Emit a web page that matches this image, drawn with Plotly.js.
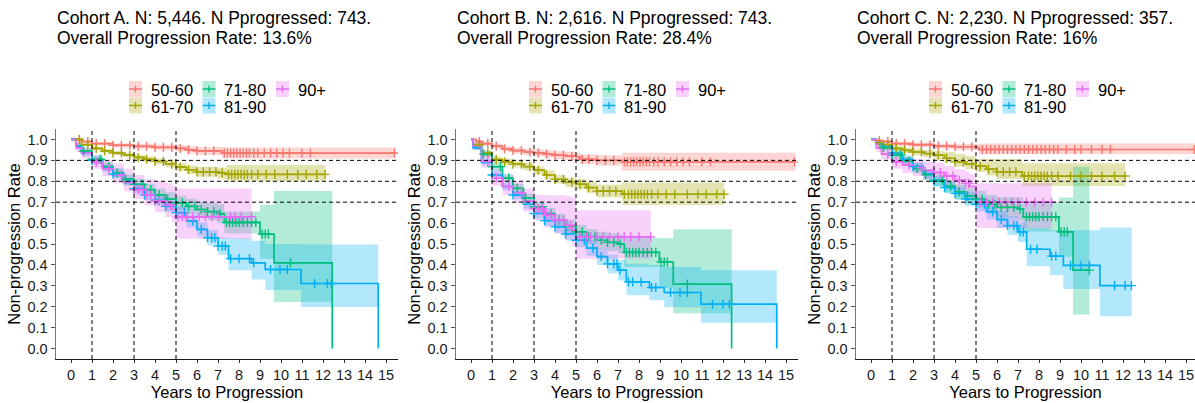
<!DOCTYPE html>
<html><head><meta charset="utf-8">
<script src="https://cdn.plot.ly/plotly-3.0.1.min.js"></script>
<style>html,body{margin:0;padding:0;background:#fff}</style>
</head><body><div id="chart" style="width:1195px;height:403px"></div>
<script>
// ---------- categories, ticks, labels ----------
const groups = ["50-60", "61-70", "71-80", "81-90", "90+"];
const groupColors = ["#F8766D", "#A3A500", "#00BF7D", "#00B0F6", "#E76BF3"];
const xTickVals = [0,1,2,3,4,5,6,7,8,9,10,11,12,13,14,15];
const yTickVals = [0,0.1,0.2,0.3,0.4,0.5,0.6,0.7,0.8,0.9,1.0];
const refYears = [1, 3, 5];
const refRates = [0.7, 0.8, 0.9];
const titleLine1 = ["Cohort A. N: 5,446. N Pprogressed: 743.", "Cohort B. N: 2,616. N Pprogressed: 743.", "Cohort C. N: 2,230. N Pprogressed: 357."];
const titleLine2 = ["Overall Progression Rate: 13.6%", "Overall Progression Rate: 28.4%", "Overall Progression Rate: 16%"];

// ---------- Cohort A ----------
const A_t_5060 = [0, 0.5, 1, 2, 3, 4, 5, 5.5, 6, 7.2, 15.45];
const A_s_5060 = [1, 0.99, 0.98, 0.972, 0.967, 0.962, 0.957, 0.95, 0.945, 0.935, 0.935];
const A_lo_5060 = [1, 0.984, 0.972, 0.962, 0.955, 0.948, 0.942, 0.933, 0.926, 0.909, 0.909];
const A_hi_5060 = [1, 0.996, 0.988, 0.982, 0.979, 0.976, 0.972, 0.967, 0.964, 0.962, 0.962];
const A_c_5060 = [0.4,0.8,1.2,1.6,2.0,2.4,2.8,3.2,3.6,4.0,4.4,4.8,5.2,5.6,6.0,6.4,6.8,7.3,7.45,7.6,7.75,7.9,8.05,8.2,8.35,8.5,8.7,8.9,9.2,9.5,9.8,10.1,10.4,11.0,11.4,15.4];

const A_t_6170 = [0, 0.5, 1, 1.5, 2, 2.5, 3, 3.5, 4, 4.5, 5, 5.5, 6, 7, 7.4, 12.1];
const A_s_6170 = [1, 0.975, 0.957, 0.945, 0.935, 0.925, 0.914, 0.905, 0.895, 0.882, 0.868, 0.855, 0.845, 0.84, 0.833, 0.833];
const A_lo_6170 = [1, 0.968, 0.949, 0.936, 0.925, 0.914, 0.902, 0.892, 0.881, 0.866, 0.85, 0.835, 0.822, 0.812, 0.8, 0.8];
const A_hi_6170 = [1, 0.982, 0.965, 0.954, 0.945, 0.936, 0.926, 0.918, 0.909, 0.898, 0.886, 0.875, 0.868, 0.866, 0.878, 0.878];
const A_c_6170 = [0.4,0.8,1.2,1.6,2.0,2.4,2.8,3.2,3.6,4.0,4.4,4.8,5.2,5.6,6.0,6.3,6.6,6.9,7.2,7.5,7.65,7.8,7.95,8.1,8.25,8.4,8.6,8.9,9.3,9.7,10.3,10.8,11.2,11.7,12.1];

const A_t_7180 = [0, 0.25, 0.5, 1, 1.5, 2, 2.5, 3, 3.5, 4, 4.5, 5, 5.5, 6, 6.5, 7, 7.3, 9.0, 9.67, 12.44, 12.44];
const A_s_7180 = [1, 0.97, 0.945, 0.905, 0.87, 0.84, 0.81, 0.785, 0.76, 0.735, 0.715, 0.697, 0.68, 0.665, 0.655, 0.645, 0.603, 0.547, 0.41, 0.41, 0];
const A_lo_7180 = [1, 0.958, 0.93, 0.887, 0.85, 0.818, 0.786, 0.759, 0.732, 0.705, 0.683, 0.663, 0.644, 0.627, 0.614, 0.6, 0.55, 0.43, 0.223, 0.223, 0.223];
const A_hi_7180 = [1, 0.982, 0.96, 0.923, 0.89, 0.862, 0.834, 0.811, 0.788, 0.765, 0.747, 0.731, 0.716, 0.703, 0.696, 0.69, 0.655, 0.686, 0.753, 0.753, 0.753];
const A_c_7180 = [0.6,1.0,1.4,1.8,2.2,2.6,3.0,3.4,3.8,4.2,4.6,5.0,5.3,5.6,5.9,6.2,6.5,6.8,7.1,7.4,7.55,7.7,7.85,8.0,8.2,8.4,8.6,8.8,9.1,9.25,9.4,10.45];

const A_t_8190 = [0, 0.25, 0.5, 1, 1.5, 2, 2.5, 3, 3.5, 4, 4.5, 5, 5.5, 6, 6.5, 7, 7.5, 8.6, 9.25, 10.95, 14.63, 14.63];
const A_s_8190 = [1, 0.965, 0.935, 0.9, 0.865, 0.835, 0.8, 0.765, 0.735, 0.71, 0.68, 0.65, 0.61, 0.57, 0.53, 0.49, 0.43, 0.41, 0.378, 0.311, 0.311, 0];
const A_lo_8190 = [1, 0.953, 0.92, 0.883, 0.847, 0.815, 0.779, 0.743, 0.711, 0.685, 0.653, 0.621, 0.579, 0.536, 0.493, 0.449, 0.375, 0.33, 0.28, 0.199, 0.199, 0.199];
const A_hi_8190 = [1, 0.977, 0.95, 0.917, 0.883, 0.855, 0.821, 0.787, 0.759, 0.735, 0.707, 0.679, 0.641, 0.604, 0.567, 0.531, 0.528, 0.515, 0.5, 0.498, 0.498, 0.498];
const A_c_8190 = [1.0,2.0,3.0,3.5,4.0,4.5,5.0,5.4,5.8,6.2,6.5,6.7,6.85,7.0,7.2,7.35,7.6,8.0,8.5,8.7,9.5,9.95,10.3,11.6,12.2,12.4];

const A_t_90 = [0, 0.25, 0.5, 1, 1.5, 2, 2.5, 3, 3.5, 4, 4.5, 4.8, 5, 8.6];
const A_s_90 = [1, 0.96, 0.935, 0.89, 0.86, 0.83, 0.795, 0.76, 0.735, 0.705, 0.685, 0.665, 0.63, 0.63];
const A_lo_90 = [1, 0.94, 0.91, 0.86, 0.825, 0.79, 0.752, 0.714, 0.685, 0.652, 0.628, 0.605, 0.525, 0.525];
const A_hi_90 = [1, 0.98, 0.96, 0.925, 0.9, 0.885, 0.86, 0.83, 0.81, 0.8, 0.79, 0.78, 0.765, 0.765];
const A_c_90 = [1.2,1.8,2.4,3.0,3.2,3.4,3.6,3.8,4.0,4.2,4.4,4.6,4.75,5.1,5.3,5.5,5.8,6.1,6.4,6.7,7.0,7.6,7.8,8.1,8.6];

// ---------- Cohort B ----------
const B_t_5060 = [0, 0.25, 0.5, 1, 1.5, 2, 2.5, 3, 3.5, 4, 4.5, 5, 5.2, 6, 7.2, 15.45];
const B_s_5060 = [1, 0.99, 0.98, 0.968, 0.955, 0.947, 0.94, 0.936, 0.93, 0.925, 0.92, 0.917, 0.905, 0.9, 0.893, 0.893];
const B_lo_5060 = [1, 0.983, 0.97, 0.955, 0.942, 0.932, 0.925, 0.92, 0.913, 0.907, 0.9, 0.896, 0.882, 0.875, 0.85, 0.85];
const B_hi_5060 = [1, 0.997, 0.99, 0.98, 0.968, 0.96, 0.955, 0.952, 0.947, 0.943, 0.94, 0.938, 0.928, 0.925, 0.936, 0.936];
const B_c_5060 = [0.4,0.8,1.2,1.6,2.0,2.4,2.8,3.2,3.6,4.0,4.4,4.8,5.3,5.6,6.0,6.4,6.8,7.3,7.45,7.6,7.75,7.9,8.05,8.2,8.35,8.5,8.7,8.9,9.2,9.5,9.8,10.1,10.4,11.0,11.4,15.4];

const B_t_6170 = [0, 0.1, 0.5, 1, 1.5, 2, 2.5, 3, 3.5, 4, 4.5, 5, 5.5, 6, 7.2, 12.05];
const B_s_6170 = [1, 0.975, 0.935, 0.904, 0.893, 0.882, 0.87, 0.853, 0.83, 0.809, 0.795, 0.786, 0.77, 0.753, 0.738, 0.738];
const B_lo_6170 = [1, 0.965, 0.922, 0.89, 0.878, 0.866, 0.853, 0.835, 0.81, 0.788, 0.772, 0.762, 0.743, 0.722, 0.686, 0.686];
const B_hi_6170 = [1, 0.985, 0.948, 0.918, 0.908, 0.898, 0.887, 0.871, 0.85, 0.83, 0.818, 0.81, 0.797, 0.784, 0.794, 0.794];
const B_c_6170 = [0.4,0.8,1.2,1.6,2.0,2.4,2.8,3.2,3.6,4.0,4.4,4.8,5.2,5.6,6.0,6.3,6.6,6.9,7.3,7.5,7.65,7.8,7.95,8.1,8.25,8.4,8.6,8.9,9.3,9.7,10.3,10.8,11.2,11.7,12.05];

const B_t_7180 = [0, 0.1, 0.5, 1, 1.5, 2, 2.5, 3, 3.5, 4, 4.5, 5, 5.5, 6, 6.5, 7, 7.3, 8.97, 9.63, 12.41, 12.41];
const B_s_7180 = [1, 0.97, 0.93, 0.87, 0.815, 0.766, 0.72, 0.678, 0.645, 0.614, 0.585, 0.558, 0.535, 0.518, 0.508, 0.5, 0.46, 0.414, 0.308, 0.308, 0];
const B_lo_7180 = [1, 0.96, 0.915, 0.85, 0.795, 0.745, 0.698, 0.653, 0.618, 0.585, 0.553, 0.524, 0.498, 0.478, 0.465, 0.455, 0.39, 0.29, 0.169, 0.169, 0.169];
const B_hi_7180 = [1, 0.98, 0.945, 0.89, 0.835, 0.787, 0.742, 0.703, 0.672, 0.643, 0.617, 0.592, 0.572, 0.558, 0.551, 0.545, 0.53, 0.528, 0.571, 0.571, 0.571];
const B_c_7180 = [0.6,1.0,1.4,1.8,2.2,2.6,3.0,3.4,3.8,4.2,4.6,5.0,5.3,5.6,5.9,6.2,6.5,6.8,7.1,7.4,7.55,7.7,7.85,8.0,8.2,8.4,8.6,8.8,9.05,9.2,9.35,10.3];

const B_t_8190 = [0, 0.1, 0.5, 1, 1.5, 2, 2.5, 3, 3.5, 4, 4.5, 5, 5.5, 6, 6.5, 7, 7.4, 8.5, 9.2, 10.95, 14.56, 14.56];
const B_s_8190 = [1, 0.96, 0.89, 0.83, 0.775, 0.734, 0.69, 0.646, 0.612, 0.582, 0.548, 0.518, 0.48, 0.44, 0.405, 0.375, 0.319, 0.292, 0.268, 0.212, 0.212, 0];
const B_lo_8190 = [1, 0.95, 0.875, 0.813, 0.757, 0.714, 0.668, 0.622, 0.586, 0.553, 0.517, 0.484, 0.443, 0.4, 0.36, 0.325, 0.255, 0.231, 0.197, 0.123, 0.123, 0.123];
const B_hi_8190 = [1, 0.97, 0.905, 0.847, 0.793, 0.754, 0.712, 0.67, 0.638, 0.611, 0.579, 0.552, 0.517, 0.48, 0.45, 0.425, 0.405, 0.4, 0.39, 0.375, 0.375, 0.375];
const B_c_8190 = [1.0,2.0,3.0,3.5,4.0,4.5,5.0,5.4,5.8,6.2,6.5,6.8,6.95,7.1,7.5,7.7,8.1,8.6,8.8,9.5,9.95,10.3,11.5,12.0,12.3];

const B_t_90 = [0, 0.1, 0.5, 1, 1.5, 2, 2.5, 3, 3.5, 4, 4.5, 4.8, 5, 8.56];
const B_s_90 = [1, 0.97, 0.895, 0.815, 0.775, 0.745, 0.705, 0.67, 0.64, 0.615, 0.59, 0.565, 0.534, 0.534];
const B_lo_90 = [1, 0.95, 0.865, 0.78, 0.735, 0.7, 0.655, 0.615, 0.58, 0.55, 0.52, 0.49, 0.43, 0.43];
const B_hi_90 = [1, 0.99, 0.93, 0.86, 0.83, 0.8, 0.765, 0.735, 0.733, 0.733, 0.73, 0.72, 0.662, 0.662];
const B_c_90 = [0.8,1.2,1.8,2.4,3.0,3.2,3.4,3.6,3.8,4.0,4.2,4.4,4.6,4.75,5.2,5.5,5.7,6.0,6.3,6.6,7.0,7.3,7.6,8.0,8.56];

// ---------- Cohort C ----------
const C_t_5060 = [0, 0.25, 0.5, 1, 2, 3, 4, 5, 5.15, 15.45];
const C_s_5060 = [1, 0.995, 0.99, 0.98, 0.975, 0.968, 0.965, 0.962, 0.952, 0.952];
const C_lo_5060 = [1, 0.99, 0.982, 0.97, 0.963, 0.955, 0.95, 0.946, 0.93, 0.93];
const C_hi_5060 = [1, 1, 0.997, 0.99, 0.986, 0.98, 0.978, 0.977, 0.981, 0.981];
const C_c_5060 = [0.4,0.8,1.2,1.6,2.0,2.4,2.8,3.2,3.6,4.0,4.4,4.8,5.3,5.5,5.7,5.9,6.1,6.3,6.5,6.7,6.9,7.1,7.3,7.5,7.7,7.9,8.1,8.3,8.5,8.7,8.9,9.3,9.7,10.0,10.5,11.0,11.4,15.4];

const C_t_6170 = [0, 0.25, 0.5, 1, 1.5, 2, 2.5, 3, 3.5, 4, 4.5, 5, 5.5, 6, 7.2, 12.1];
const C_s_6170 = [1, 0.985, 0.975, 0.957, 0.948, 0.94, 0.932, 0.925, 0.91, 0.893, 0.882, 0.872, 0.858, 0.845, 0.825, 0.825];
const C_lo_6170 = [1, 0.978, 0.965, 0.945, 0.934, 0.925, 0.915, 0.906, 0.889, 0.87, 0.857, 0.844, 0.828, 0.811, 0.777, 0.777];
const C_hi_6170 = [1, 0.992, 0.985, 0.969, 0.962, 0.955, 0.95, 0.945, 0.94, 0.93, 0.92, 0.906, 0.906, 0.906, 0.886, 0.886];
const C_c_6170 = [0.4,0.8,1.2,1.6,2.0,2.4,2.8,3.2,3.6,4.0,4.4,4.8,5.2,5.6,6.0,6.3,6.6,6.9,7.3,7.5,7.65,7.8,7.95,8.1,8.25,8.4,8.6,8.9,9.5,10.0,10.5,11.0,11.6,12.1];

const C_t_7180 = [0, 0.25, 0.5, 1, 1.5, 2, 2.5, 3, 3.5, 4, 4.5, 5, 5.5, 6, 7, 7.25, 8.95, 9.62, 10.4];
const C_s_7180 = [1, 0.98, 0.96, 0.925, 0.895, 0.861, 0.832, 0.805, 0.777, 0.75, 0.73, 0.714, 0.69, 0.675, 0.667, 0.63, 0.558, 0.375, 0.375];
const C_lo_7180 = [1, 0.97, 0.947, 0.908, 0.875, 0.838, 0.806, 0.777, 0.746, 0.716, 0.693, 0.674, 0.645, 0.625, 0.61, 0.56, 0.44, 0.163, 0.163];
const C_hi_7180 = [1, 0.99, 0.973, 0.942, 0.915, 0.884, 0.858, 0.833, 0.808, 0.784, 0.767, 0.754, 0.735, 0.725, 0.724, 0.7, 0.722, 0.869, 0.869];
const C_c_7180 = [0.6,1.0,1.4,1.8,2.2,2.6,3.0,3.4,3.8,4.2,4.6,5.0,5.3,5.6,5.9,6.2,6.5,6.8,7.1,7.4,7.55,7.7,7.85,8.0,8.2,8.4,8.6,8.8,9.05,9.2,9.35,10.4];

const C_t_8190 = [0, 0.25, 0.5, 1, 1.5, 2, 2.5, 3, 3.5, 4, 4.5, 5, 5.5, 6, 6.5, 7, 7.41, 8.52, 9.16, 10.9, 12.41];
const C_s_8190 = [1, 0.985, 0.965, 0.935, 0.905, 0.87, 0.835, 0.8, 0.77, 0.742, 0.715, 0.69, 0.655, 0.617, 0.588, 0.558, 0.475, 0.442, 0.398, 0.301, 0.301];
const C_lo_8190 = [1, 0.975, 0.952, 0.918, 0.886, 0.849, 0.812, 0.775, 0.743, 0.712, 0.683, 0.655, 0.617, 0.576, 0.543, 0.51, 0.394, 0.35, 0.285, 0.155, 0.155];
const C_hi_8190 = [1, 0.995, 0.978, 0.952, 0.924, 0.891, 0.858, 0.825, 0.797, 0.772, 0.747, 0.725, 0.693, 0.658, 0.633, 0.606, 0.575, 0.566, 0.566, 0.579, 0.579];
const C_c_8190 = [1.0,2.0,3.0,3.5,4.0,4.5,5.0,5.4,5.8,6.2,6.5,6.8,6.95,7.1,7.25,7.6,7.9,8.6,8.8,9.5,10.0,10.4,11.6,12.1,12.4];

const C_t_90 = [0, 0.25, 0.5, 1, 1.5, 2, 2.5, 3, 3.5, 4, 4.5, 4.7, 5, 8.6];
const C_s_90 = [1, 0.96, 0.93, 0.893, 0.878, 0.865, 0.852, 0.842, 0.825, 0.805, 0.79, 0.775, 0.7, 0.7];
const C_lo_90 = [1, 0.94, 0.905, 0.86, 0.84, 0.825, 0.81, 0.797, 0.777, 0.754, 0.735, 0.716, 0.577, 0.577];
const C_hi_90 = [1, 0.98, 0.955, 0.926, 0.916, 0.905, 0.894, 0.887, 0.873, 0.856, 0.845, 0.834, 0.79, 0.79];
const C_c_90 = [0.8,1.2,1.8,2.4,3.0,3.3,3.6,3.9,4.2,4.5,4.65,5.2,5.5,5.8,6.1,6.4,6.7,7.0,7.4,7.8,8.2,8.6];

// ---------- assemble ----------
const panels = [
  {t:[A_t_5060,A_t_6170,A_t_7180,A_t_8190,A_t_90], s:[A_s_5060,A_s_6170,A_s_7180,A_s_8190,A_s_90],
   lo:[A_lo_5060,A_lo_6170,A_lo_7180,A_lo_8190,A_lo_90], hi:[A_hi_5060,A_hi_6170,A_hi_7180,A_hi_8190,A_hi_90],
   c:[A_c_5060,A_c_6170,A_c_7180,A_c_8190,A_c_90]},
  {t:[B_t_5060,B_t_6170,B_t_7180,B_t_8190,B_t_90], s:[B_s_5060,B_s_6170,B_s_7180,B_s_8190,B_s_90],
   lo:[B_lo_5060,B_lo_6170,B_lo_7180,B_lo_8190,B_lo_90], hi:[B_hi_5060,B_hi_6170,B_hi_7180,B_hi_8190,B_hi_90],
   c:[B_c_5060,B_c_6170,B_c_7180,B_c_8190,B_c_90]},
  {t:[C_t_5060,C_t_6170,C_t_7180,C_t_8190,C_t_90], s:[C_s_5060,C_s_6170,C_s_7180,C_s_8190,C_s_90],
   lo:[C_lo_5060,C_lo_6170,C_lo_7180,C_lo_8190,C_lo_90], hi:[C_hi_5060,C_hi_6170,C_hi_7180,C_hi_8190,C_hi_90],
   c:[C_c_5060,C_c_6170,C_c_7180,C_c_8190,C_c_90]}
];

const W = 1195, H = 403;
const FONT = "Liberation Sans, Arial, Helvetica, sans-serif";
function rgba(hex, a) {
  const n = parseInt(hex.slice(1), 16);
  return `rgba(${(n>>16)&255},${(n>>8)&255},${n&255},${a})`;
}
function stepAt(t, s, time) {
  let v = s[0];
  for (let i = 0; i < t.length; i++) { if (t[i] <= time) v = s[i]; else break; }
  return v;
}
const px = p => p / W;
const py = p => 1 - p / H;

const panelLeft = [56, 456, 856];
const panelRight = [398, 798, 1195];
const x0px = 15, pxPerYear = 21;

const traces = [];
const layout = {
  width: W, height: H, margin: {l:0, r:0, t:0, b:0},
  paper_bgcolor: '#fff', plot_bgcolor: '#fff', showlegend: false,
  font: {family: FONT, color: '#000'},
  shapes: [], annotations: []
};

panels.forEach((P, p) => {
  const sfx = p === 0 ? '' : String(p + 1);
  const xa = 'x' + sfx, ya = 'y' + sfx;
  const wpx = panelRight[p] - panelLeft[p];
  layout['xaxis' + sfx] = {
    domain: [px(panelLeft[p]), px(panelRight[p])], anchor: ya,
    range: [-x0px / pxPerYear, (wpx - x0px) / pxPerYear],
    tickvals: xTickVals, ticktext: xTickVals.map(String),
    ticks: 'outside', ticklen: 3, tickwidth: 1, tickcolor: '#333',
    showline: true, linecolor: '#1a1a1a', linewidth: 1,
    showgrid: false, zeroline: false, automargin: false,
    tickfont: {size: 14.5, color: '#1a1a1a', family: FONT},
    title: {text: 'Years to Progression', font: {size: 16.5, color: '#000', family: FONT}, standoff: 0}
  };
  layout['yaxis' + sfx] = {
    domain: [44 / H, 274 / H], anchor: xa,
    range: [-0.05, 1.05],
    tickvals: yTickVals, ticktext: yTickVals.map(v => v.toFixed(1)),
    ticks: 'outside', ticklen: 4, tickwidth: 1, tickcolor: '#555',
    showline: true, linecolor: '#777', linewidth: 1.5,
    showgrid: false, zeroline: false, automargin: false,
    tickfont: {size: 14.5, color: '#1a1a1a', family: FONT},
    title: {text: 'Non-progression Rate', font: {size: 16.5, color: '#000', family: FONT}, standoff: 2}
  };

  // CI ribbons
  groups.forEach((g, k) => {
    traces.push({type:'scatter', mode:'lines', x:P.t[k], y:P.lo[k], xaxis:xa, yaxis:ya,
      line:{width:0, shape:'hv', color:groupColors[k]}, hoverinfo:'skip', showlegend:false});
    traces.push({type:'scatter', mode:'lines', x:P.t[k], y:P.hi[k], xaxis:xa, yaxis:ya,
      line:{width:0, shape:'hv', color:groupColors[k]}, fill:'tonexty', fillcolor:rgba(groupColors[k], 0.3),
      hoverinfo:'skip', showlegend:false});
  });
  // survival steps
  groups.forEach((g, k) => {
    traces.push({type:'scatter', mode:'lines', name:g, x:P.t[k], y:P.s[k], xaxis:xa, yaxis:ya,
      line:{width:1.7, shape:'hv', color:groupColors[k]}, showlegend:false});
  });
  // censor marks
  groups.forEach((g, k) => {
    traces.push({type:'scatter', mode:'markers', name:g + ' censored', x:P.c[k],
      y:P.c[k].map(tt => stepAt(P.t[k], P.s[k], tt)), xaxis:xa, yaxis:ya,
      marker:{symbol:'cross-thin', size:6.5, color:groupColors[k], line:{width:1.4, color:groupColors[k]}},
      showlegend:false});
  });

  // reference dashed lines
  refYears.forEach(yr => layout.shapes.push({type:'line', xref:xa, yref:ya + ' domain', x0:yr, x1:yr, y0:0, y1:1,
    line:{color:'#000', width:1, dash:'4px,3px'}, layer:'above'}));
  refRates.forEach(r => layout.shapes.push({type:'line', xref:xa + ' domain', yref:ya, x0:0, x1:1, y0:r, y1:r,
    line:{color:'#000', width:1, dash:'4px,3px'}, layer:'above'}));

  // titles
  layout.annotations.push({xref:'paper', yref:'paper', x:px(panelLeft[p] - 1), y:py(17.5), xanchor:'left', yanchor:'middle',
    text:titleLine1[p], showarrow:false, font:{size:17.5, color:'#000', family:FONT}});
  layout.annotations.push({xref:'paper', yref:'paper', x:px(panelLeft[p] - 1), y:py(38), xanchor:'left', yanchor:'middle',
    text:titleLine2[p], showarrow:false, font:{size:17.5, color:'#000', family:FONT}});

  // legend (keys drawn as shapes, labels as text)
  const legCol = [0, 0, 1, 1, 2], legRow = [0, 1, 0, 1, 0];
  groups.forEach((g, k) => {
    const cx = panelLeft[p] - 56 + 135.5 + legCol[k] * 73.5;
    const cy = 89 + legRow[k] * 16.5;
    layout.shapes.push({type:'rect', xref:'paper', yref:'paper', x0:px(cx - 6.5), x1:px(cx + 6.5), y0:py(cy + 8), y1:py(cy - 8),
      fillcolor:rgba(groupColors[k], 0.3), line:{width:0}, layer:'above'});
    layout.shapes.push({type:'line', xref:'paper', yref:'paper', x0:px(cx - 6.5), x1:px(cx + 6.5), y0:py(cy), y1:py(cy),
      line:{color:groupColors[k], width:1.5}, layer:'above'});
    layout.shapes.push({type:'line', xref:'paper', yref:'paper', x0:px(cx), x1:px(cx), y0:py(cy - 3.5), y1:py(cy + 3.5),
      line:{color:groupColors[k], width:1.4}, layer:'above'});
    layout.annotations.push({xref:'paper', yref:'paper', x:px(cx + 13), y:py(cy + 1), xanchor:'left', yanchor:'middle',
      text:g, showarrow:false, font:{size:16.5, color:'#000', family:FONT}});
  });
});

Plotly.newPlot('chart', traces, layout, {staticPlot:true, displayModeBar:false});
</script></body></html>
